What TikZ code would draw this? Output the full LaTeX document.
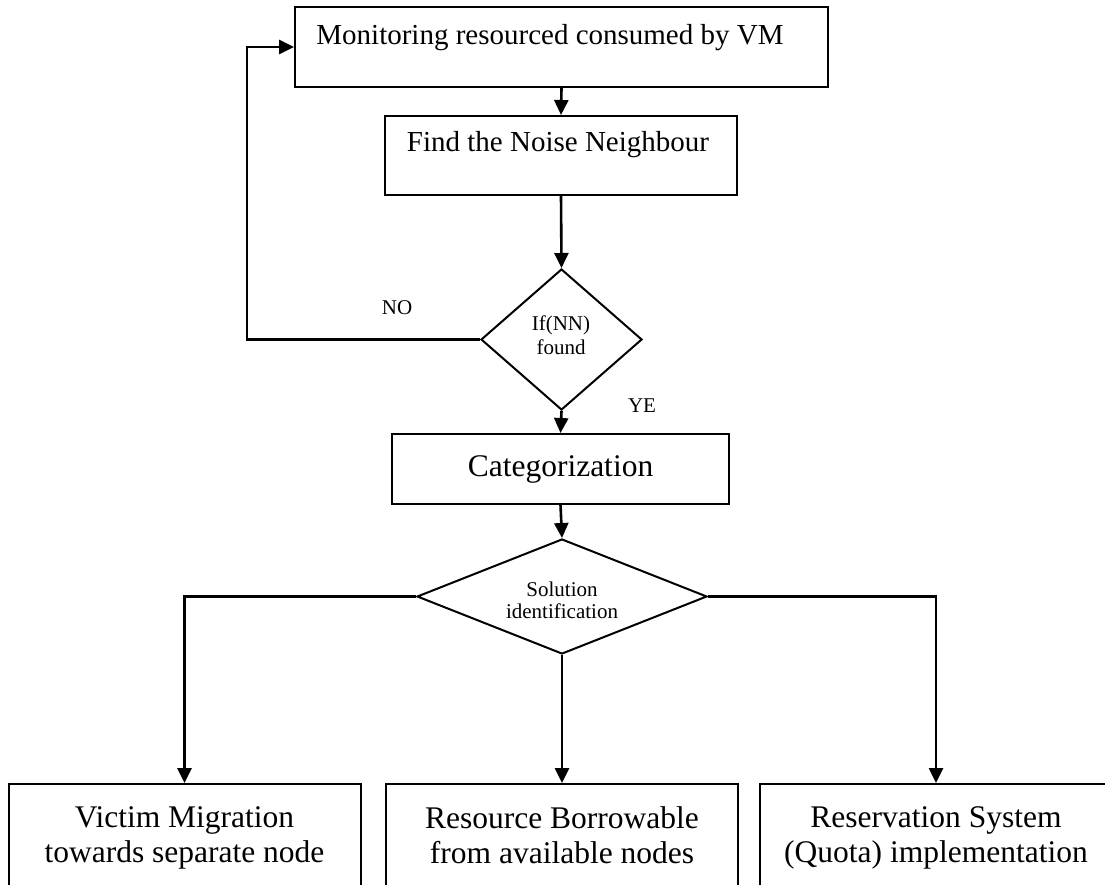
\documentclass[tikz,border=0pt]{standalone}
\usepackage{fontspec}
\setmainfont{Liberation Serif}
\usetikzlibrary{shapes.geometric,arrows.meta}

\begin{document}
\begin{tikzpicture}[x=1pt,y=-1pt,
  box/.style={draw,line width=2pt,inner sep=0pt},
  dia/.style={draw,diamond,line width=2pt,inner sep=0pt},
  txt/.style={inner sep=0pt,align=center,font=\fontsize{29}{35}\selectfont},
  bottomtxt/.style={inner sep=0pt,align=center,font=\fontsize{31.5}{35}\selectfont,
    execute at begin node=\strut,execute at end node=\strut},
  big/.style={inner sep=0pt,align=center,font=\fontsize{31.5}{36}\selectfont},
  small/.style={inner sep=0pt,align=center,font=\fontsize{21}{24}\selectfont},
  flow/.style={line width=2.6pt,-{Triangle[length=15pt,width=14pt]}}]
\useasboundingbox (0,0) rectangle (1105,885);

% process boxes
\node[box,minimum width=533pt,minimum height=80pt] (mon) at (561.5,47) {};
\node[txt] (monT) at (550,38) {Monitoring resourced consumed by VM};

\node[box,minimum width=352pt,minimum height=79pt] (find) at (561,155.5) {};
\node[txt] (findT) at (558,145) {Find the Noise Neighbour};

% first decision
\node[dia,minimum width=161pt,minimum height=141pt] (d1) at (561.5,339.5) {};
\node[small] (d1T) at (561,335) {If(NN)\\found};

\node[box,big,minimum width=337pt,minimum height=70pt] (cat) at (560.5,469) {Categorization};

% second decision
\node[dia,minimum width=290pt,minimum height=115pt] (d2) at (562,596.5) {};
\node[small,font=\fontsize{21}{22}\selectfont] (d2T) at (562,600) {Solution\\identification};

% solutions
\node[box,minimum width=352pt,minimum height=102pt] (b1) at (184.5,835) {};
\node[box,minimum width=352pt,minimum height=102pt] (b2) at (562,835) {};
\node[box,minimum width=352pt,minimum height=102pt] (b3) at (936,835) {};
\node[bottomtxt] (b1T) at (184.5,840) {Victim Migration\\towards separate node};
\node[bottomtxt] (b2T) at (562,840) {Resource Borrowable\\from available nodes};
\node[bottomtxt] (b3T) at (936,840) {Reservation System\\(Quota) implementation};

% branch labels
\node[small] (no) at (397,308) {NO};
\node[small] (ye) at (642,406) {YE};

% connectors
\coordinate (loop) at (247,0);
\draw[flow] (mon.south) -- (find.north);
\draw[flow] (find.south) -- (d1.north);
\draw[flow] (d1.west) -- (d1.west -| loop) |- (mon.west);
\draw[flow] (d1.south) -- (cat.north);
\draw[flow] (cat.south) -- (d2.north);
\draw[flow] (d2.west) -| (b1.north);
\draw[flow] (d2.south) -- (b2.north);
\draw[flow] (d2.east) -| (b3.north);
\end{tikzpicture}
\end{document}
